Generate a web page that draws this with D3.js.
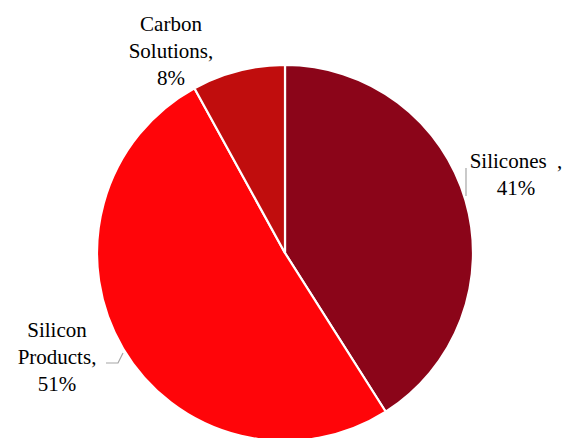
<!DOCTYPE html>
<html><head><meta charset="utf-8">
<script src="https://cdn.jsdelivr.net/npm/d3@7"></script>
<style>html,body{margin:0;padding:0;background:#fff;}svg{display:block;}</style>
</head><body>
<script>
const categories = ["Silicones", "Silicon Products", "Carbon Solutions"];
const values = [41, 51, 8];
const labelLines = [["Silicones  ,", "41%"], ["Silicon", "Products,", "51%"], ["Carbon", "Solutions,", "8%"]];
const colors = ["#8B0519", "#FF0509", "#C00D0D"];

const W = 569, H = 438, cx = 285, cy = 253, R = 188;
const svg = d3.select("body").append("svg").attr("width", W).attr("height", H)
  .style("font-family", '"Liberation Serif"');
const data = categories.map((c, i) => ({cat: c, value: values[i], lines: labelLines[i], color: colors[i]}));
const pie = d3.pie().sort(null).value(d => d.value);
const arc = d3.arc().innerRadius(0).outerRadius(R);
const g = svg.append("g").attr("transform", `translate(${cx},${cy})`);
g.selectAll("path").data(pie(data)).join("path")
  .attr("d", arc).attr("fill", d => d.data.color)
  .attr("stroke", "#fff").attr("stroke-width", 2.2).attr("stroke-linejoin", "round");

// label layout (center x, first baseline) per category
const labelPos = {"Silicones": [516, 168], "Silicon Products": [57, 337], "Carbon Solutions": [171, 31]};
const lh = 27;
data.forEach(d => {
  const [x, y] = labelPos[d.cat];
  d.lines.forEach((ln, i) => svg.append("text")
    .attr("x", x).attr("y", y + i * lh)
    .style("font-family", '"Liberation Serif"').style("font-size", "21px").style("fill", "#000")
    .attr("text-anchor", "middle")
    .attr("xml:space", "preserve")
    .text(ln));
});
// leader lines
svg.append("path").attr("d", "M466,168 L466,196").attr("stroke", "#A6A6A6").attr("stroke-width", 1.2).attr("fill", "none");
svg.append("path").attr("d", "M106,363 L118,363 L123,353").attr("stroke", "#A6A6A6").attr("stroke-width", 1.2).attr("fill", "none");
</script>
</body></html>
